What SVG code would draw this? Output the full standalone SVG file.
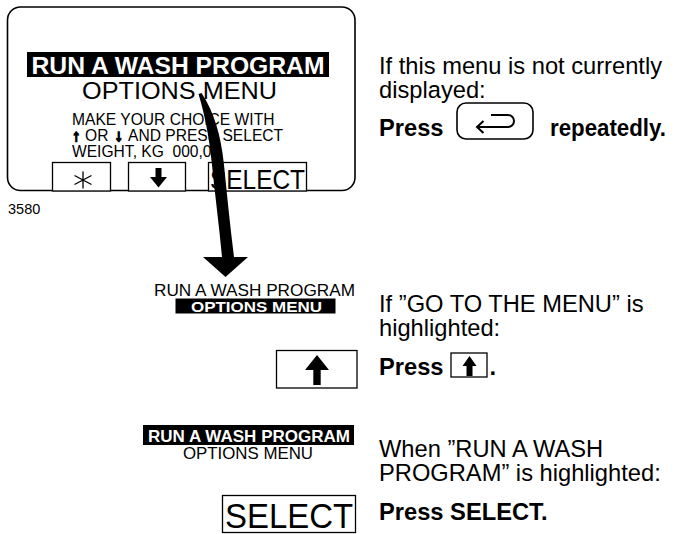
<svg xmlns="http://www.w3.org/2000/svg" width="678" height="534" viewBox="0 0 678 534">
<style>
text{font-family:"Liberation Sans",Arial,Helvetica,sans-serif;fill:#000}
.b{font-weight:bold}
.w{fill:#fff}
.box{fill:#fff;stroke:#000;stroke-width:1.3}
.body{font-size:23.7px}
.ico{fill:#000;stroke:none}
.arr{font-weight:bold;font-size:16px;stroke:#000;stroke-width:1.6}
</style>
<rect width="678" height="534" fill="#fff"/>

<g id="display-panel">
  <rect x="7.5" y="7" width="347.5" height="183.5" rx="13" fill="#fff" stroke="#000" stroke-width="1.6"/>
  <rect x="27" y="52" width="302" height="25" fill="#000"/>
  <text x="31.5" y="74" font-size="24.5" class="b w" textLength="293" lengthAdjust="spacingAndGlyphs">RUN A WASH PROGRAM</text>
  <text x="82" y="99" font-size="24.5" textLength="195" lengthAdjust="spacingAndGlyphs">OPTIONS MENU</text>
  <text x="72" y="124.5" font-size="15.6">MAKE YOUR CHOICE WITH</text>
  <text y="140.5" font-size="15.6"><tspan x="72" class="arr">↑</tspan><tspan x="85">OR</tspan><tspan x="114.5" class="arr">↓</tspan><tspan x="128">AND PRESS SELECT</tspan></text>
  <text x="72" y="156.5" font-size="15.6" xml:space="preserve">WEIGHT, KG  000,0</text>
  <g id="key-star">
    <rect class="box" x="52.5" y="162.5" width="58" height="28.5"/>
    <path d="M83,171.5V188.5M74.5,175.5L91.5,184.5M74.5,184.5L91.5,175.5" stroke="#000" stroke-width="1.3" fill="none"/>
  </g>
  <g id="key-down">
    <rect class="box" x="128.5" y="162.5" width="57" height="28.5"/>
    <path class="ico" d="M155.5,168h6v9h5.5l-8.5,10.5l-8.5,-10.5h5.5z"/>
  </g>
  <g id="key-select">
    <rect class="box" x="208.5" y="162.5" width="98" height="28.5"/>
    <text x="210" y="188.5" font-size="28" textLength="95" lengthAdjust="spacingAndGlyphs">SELECT</text>
  </g>
</g>

<g id="figure-number">
  <text x="8" y="214" font-size="14.5">3580</text>
</g>

<g id="step1-text">
  <text class="body" x="379" y="74">If this menu is not currently</text>
  <text class="body" x="379" y="98">displayed:</text>
  <text class="body b" x="379" y="136">Press</text>
  <g id="key-return">
    <rect x="457" y="103" width="76" height="36" rx="9" fill="#fff" stroke="#000" stroke-width="1.6"/>
    <path d="M491,115H508A6,6 0 0 1 508,127H477M483.5,121L477,127L483.5,133" fill="none" stroke="#000" stroke-width="2"/>
  </g>
  <text class="body b" x="550" y="136" textLength="116" lengthAdjust="spacingAndGlyphs">repeatedly.</text>
</g>

<g id="connectors">
  <path fill="#000" d="M198.5,94C204,112 209,135 212,165C215,195 219,225 222,257L203,257L225.5,277L248,257L234,257C230,225 227,195 224,165C221,135 214,112 201.5,93Z"/>
</g>

<g id="menu-state-2">
  <text x="154" y="295.5" font-size="16.5" textLength="201" lengthAdjust="spacingAndGlyphs">RUN A WASH PROGRAM</text>
  <rect x="175.5" y="298.5" width="160" height="15" fill="#000"/>
  <text x="191" y="312" font-size="15.5" class="b w" textLength="131" lengthAdjust="spacingAndGlyphs">OPTIONS MENU</text>
</g>

<g id="key-up">
  <rect class="box" x="276.5" y="350.5" width="80.5" height="37.5"/>
  <path class="ico" d="M317,355L329,370H320.7V385H313.3V370H305Z"/>
</g>

<g id="step2-text">
  <text class="body" x="379" y="312">If ”GO TO THE MENU” is</text>
  <text class="body" x="379" y="336">highlighted:</text>
  <text class="body b" x="379" y="375">Press</text>
  <rect class="box" x="451" y="353" width="36" height="24"/>
  <path class="ico" d="M469.5,356L476.5,366H472.5V376H466.5V366H462.5Z"/>
  <text class="body b" x="489.5" y="375">.</text>
</g>

<g id="menu-state-3">
  <rect x="143" y="425" width="211" height="20" fill="#000"/>
  <text x="148" y="441.5" font-size="16.5" class="b w" textLength="202" lengthAdjust="spacingAndGlyphs">RUN A WASH PROGRAM</text>
  <text x="183" y="459" font-size="16.5" textLength="130" lengthAdjust="spacingAndGlyphs">OPTIONS MENU</text>
</g>

<g id="key-select-2">
  <rect class="box" x="222.5" y="495.5" width="133" height="37"/>
  <text x="225" y="528" font-size="35" textLength="128" lengthAdjust="spacingAndGlyphs">SELECT</text>
</g>

<g id="step3-text">
  <text class="body" x="379" y="457">When ”RUN A WASH</text>
  <text class="body" x="379" y="481">PROGRAM” is highlighted:</text>
  <text class="body b" x="379" y="520">Press SELECT.</text>
</g>
</svg>
